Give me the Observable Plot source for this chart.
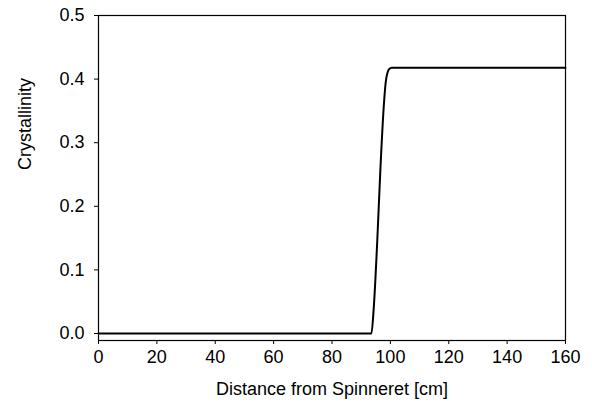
<!DOCTYPE html>
<html><head><meta charset="utf-8">
<script src="https://cdn.jsdelivr.net/npm/d3@7"></script>
<script src="https://cdn.jsdelivr.net/npm/@observablehq/plot@0.6"></script>
<style>body{margin:0;background:#fff;} svg{font-family:Arial,"Liberation Sans",sans-serif;}</style>
</head><body><div id="chart"></div>
<script>
const distance = [0, 93.5, 94.3, 95.5, 96.6, 97.7, 98.4, 99.0, 99.6, 100.5, 160];
const crystallinity = [0, 0, 0.04, 0.145, 0.26, 0.355, 0.395, 0.41, 0.416, 0.418, 0.418];
const xTicks = [0, 20, 40, 60, 80, 100, 120, 140, 160];
const yTicks = [0.0, 0.1, 0.2, 0.3, 0.4, 0.5];
const xLabel = "Distance from Spinneret [cm]";
const yLabel = "Crystallinity";

const data = distance.map((d, i) => ({x: d, y: crystallinity[i]}));

const chart = Plot.plot({
  width: 592, height: 411,
  marginLeft: 98, marginRight: 27, marginTop: 15, marginBottom: 71,
  style: {fontSize: "18px", fontFamily: "Arial, 'Liberation Sans', sans-serif", color: "#000", background: "#fff"},
  x: {domain: [0, 160]},
  y: {domain: [-0.011, 0.5]},
  marks: [
    Plot.frame({stroke: "#000", strokeWidth: 1.2}),
    Plot.axisX({ticks: xTicks, tickSize: 4, tickPadding: 6, label: null, fontSize: 18}),
    Plot.axisY({ticks: yTicks, tickFormat: d3.format(".1f"), tickSize: 4, tickPadding: 10, label: null, fontSize: 18}),
    Plot.text([xLabel], {frameAnchor: "bottom", lineAnchor: "bottom", dy: 54, fontSize: 18, fill: "#000"}),
    Plot.text([yLabel], {frameAnchor: "left", rotate: -90, lineAnchor: "top", dx: -80, dy: -8, fontSize: 18, fill: "#000"}),
    Plot.line(data, {x: "x", y: "y", stroke: "#000", strokeWidth: 2, curve: "monotone-x"})
  ]
});
document.getElementById("chart").appendChild(chart);
</script></body></html>
